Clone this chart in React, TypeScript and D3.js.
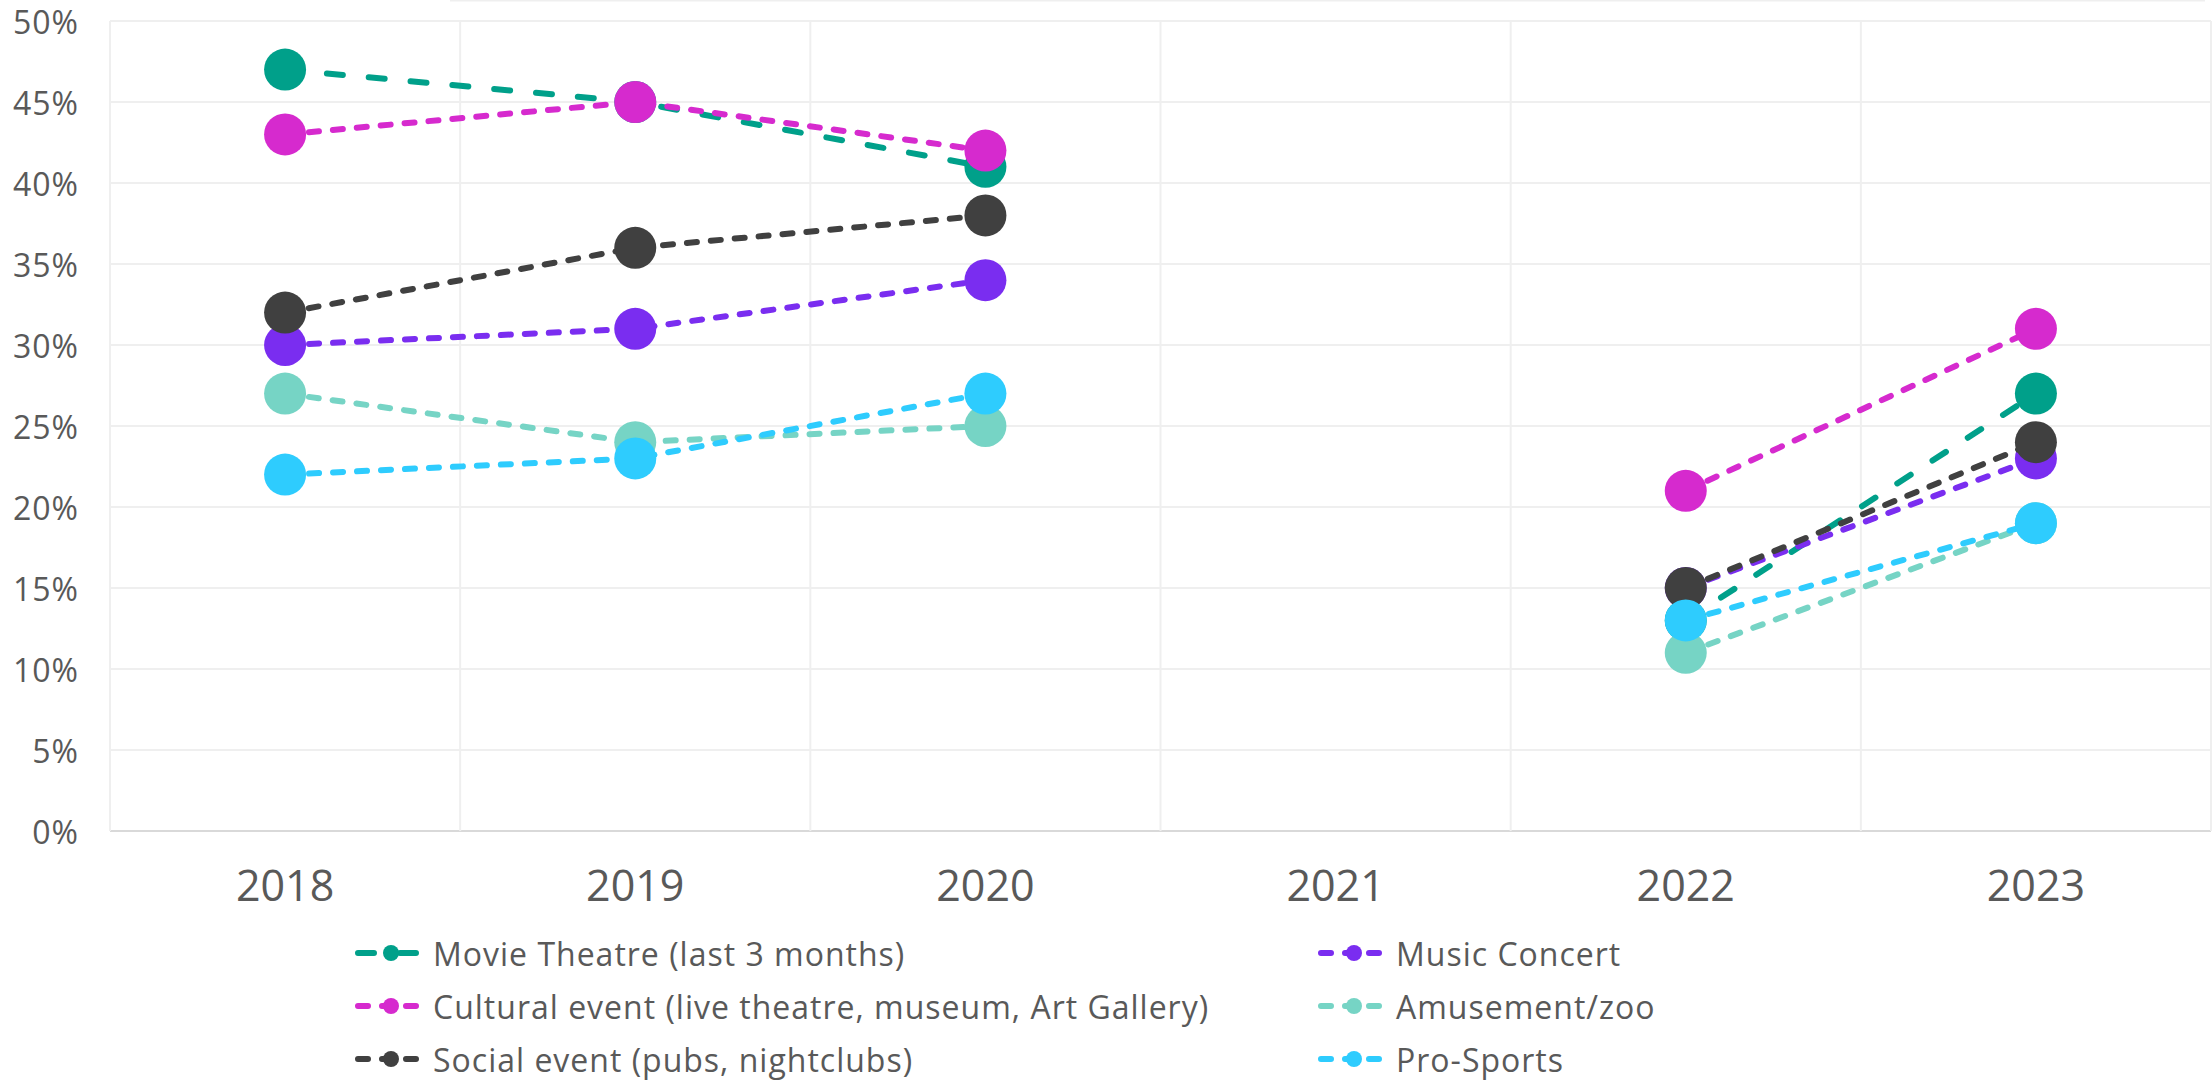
import React from "react";
import * as d3 from "d3";

const years = ["2018", "2019", "2020", "2021", "2022", "2023"];
const yTicks = [0, 5, 10, 15, 20, 25, 30, 35, 40, 45, 50];

const movieTheatre = [47, 45, 41, null, 13, 27];
const musicConcert = [30, 31, 34, null, 15, 23];
const culturalEvent = [43, 45, 42, null, 21, 31];
const amusementZoo = [27, 24, 25, null, 11, 19];
const socialEvent = [32, 36, 38, null, 15, 24];
const proSports = [22, 23, 27, null, 13, 19];

const seriesNames = [
  "Movie Theatre (last 3 months)",
  "Music Concert",
  "Cultural event (live theatre, museum, Art Gallery)",
  "Amusement/zoo",
  "Social event (pubs, nightclubs)",
  "Pro-Sports",
];
const seriesValues = [movieTheatre, musicConcert, culturalEvent, amusementZoo, socialEvent, proSports];
const seriesColors = ["#00A08A", "#7A2DF0", "#D62ACE", "#76D4C5", "#404040", "#2ECCFE"];
const seriesDash = ["16 26", "10 14", "10 14", "10 14", "10 14", "10 14"];

const W = 2212;
const H = 1081;
const M = { left: 110, top: 21, right: 2211, bottom: 831 };
const FONT = "'Open Sans', 'Noto Sans', sans-serif";
const TEXT = "#595959";

export default function App() {
  const x = d3.scaleBand<string>().domain(years).range([M.left, M.right]).padding(0);
  const y = d3.scaleLinear().domain([0, 50]).range([M.bottom, M.top]);
  const cx = (i: number) => (x(years[i]) as number) + x.bandwidth() / 2;

  const line = d3
    .line<number | null>()
    .defined((d) => d != null)
    .x((_, i) => cx(i))
    .y((d) => y(d as number));

  const legendCols = [355, 1318];
  const legendRows = [953, 1006, 1059];

  return (
    <svg
      width={W}
      height={H}
      style={{ position: "absolute", left: 0, top: 0, background: "#fff" }}
      fontFamily={FONT}
    >
      <line x1={450} x2={2205} y1={0.5} y2={0.5} stroke="#EFEFEF" strokeWidth={2} />
      {yTicks.map((t) => (
        <line
          key={"h" + t}
          x1={M.left}
          x2={M.right}
          y1={y(t)}
          y2={y(t)}
          stroke={t === 0 ? "#D9D9D9" : "#EFEFEF"}
          strokeWidth={2}
        />
      ))}
      {years.map((yr) => (
        <line
          key={"v" + yr}
          x1={x(yr) as number}
          x2={x(yr) as number}
          y1={M.top}
          y2={M.bottom}
          stroke="#EFEFEF"
          strokeWidth={2}
        />
      ))}
      <line x1={M.right} x2={M.right} y1={M.top} y2={M.bottom} stroke="#EFEFEF" strokeWidth={2} />
      {yTicks.map((t) => (
        <text
          key={"yl" + t}
          x={79}
          y={y(t)}
          textAnchor="end"
          dominantBaseline="central"
          fontSize={32}
          letterSpacing={1}
          fill={TEXT}
        >
          {t + "%"}
        </text>
      ))}
      {years.map((yr, i) => (
        <text key={"xl" + yr} x={cx(i)} y={901} textAnchor="middle" fontSize={43} fill={TEXT}>
          {yr}
        </text>
      ))}
      {seriesValues.map((vals, s) => (
        <g key={"s" + s}>
          <path
            d={line(vals) || ""}
            fill="none"
            stroke={seriesColors[s]}
            strokeWidth={6}
            strokeDasharray={seriesDash[s]}
            strokeLinecap="round"
          />
          {vals.map((v, i) =>
            v == null ? null : (
              <circle key={i} cx={cx(i)} cy={y(v)} r={21} fill={seriesColors[s]} />
            )
          )}
        </g>
      ))}
      {seriesNames.map((name, s) => {
        const col = s % 2;
        const row = Math.floor(s / 2);
        const lx = legendCols[col];
        const ly = legendRows[row];
        return (
          <g key={"lg" + s}>
            <line
              x1={lx + 3}
              x2={lx + 62}
              y1={ly}
              y2={ly}
              stroke={seriesColors[s]}
              strokeWidth={6}
              strokeDasharray={seriesDash[s]}
              strokeLinecap="round"
            />
            <circle cx={lx + 36} cy={ly} r={8} fill={seriesColors[s]} />
            <text
              x={lx + 78}
              y={ly}
              dominantBaseline="central"
              fontSize={32}
              letterSpacing={1}
              fill={TEXT}
            >
              {name}
            </text>
          </g>
        );
      })}
    </svg>
  );
}
